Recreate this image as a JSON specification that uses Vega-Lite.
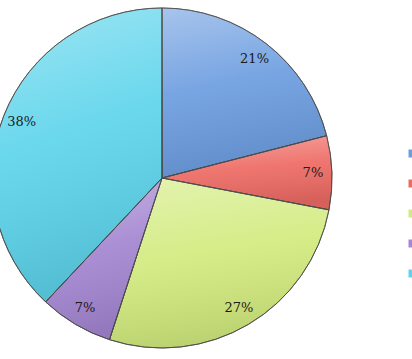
{
  "$schema": "https://vega.github.io/schema/vega-lite/v6.json",
  "autosize": "none",
  "padding": {"left": 0, "top": 0, "right": 88, "bottom": 3},
  "width": 324,
  "height": 356,
  "background": "white",
  "data": {
    "values": [
      {"category": "Category 1", "share": 0.21, "order": 1},
      {"category": "Category 2", "share": 0.07, "order": 2},
      {"category": "Category 3", "share": 0.27, "order": 3},
      {"category": "Category 4", "share": 0.07, "order": 4},
      {"category": "Category 5", "share": 0.38, "order": 5}
    ]
  },
  "encoding": {
    "theta": {"field": "share", "type": "quantitative", "stack": true},
    "order": {"field": "order", "type": "quantitative"},
    "color": {
      "field": "category",
      "type": "nominal",
      "sort": ["Category 1", "Category 2", "Category 3", "Category 4", "Category 5"],
      "scale": {
        "domain": ["Category 1", "Category 2", "Category 3", "Category 4", "Category 5"],
        "range": ["#6C9DE0", "#EE6B64", "#D2EB7E", "#A486D2", "#5DD4EB"]
      },
      "legend": {
        "orient": "none",
        "legendX": 407,
        "legendY": 148,
        "title": null,
        "symbolType": "square",
        "symbolSize": 64,
        "symbolStrokeWidth": 0,
        "labelFontSize": 11,
        "rowPadding": 18,
        "padding": 0,
        "labelFont": "Liberation Serif"
      }
    }
  },
  "layer": [
    {
      "mark": {"type": "arc", "outerRadius": 170, "stroke": "#4a4a4a", "strokeWidth": 0.8}
    },
    {
      "mark": {
        "type": "arc",
        "outerRadius": 170,
        "strokeWidth": 0,
        "fill": {
          "gradient": "linear",
          "x1": 0, "y1": 0, "x2": 0.2, "y2": 1,
          "stops": [
            {"offset": 0, "color": "rgba(255,255,255,0.4)"},
            {"offset": 0.5, "color": "rgba(255,255,255,0.08)"},
            {"offset": 1, "color": "rgba(0,0,0,0.1)"}
          ]
        }
      },
      "encoding": {"color": {"value": null}}
    },
    {
      "mark": {"type": "arc", "outerRadius": 170, "fill": null, "stroke": "#4a4a4a", "strokeWidth": 0.8},
      "encoding": {"color": {"value": null}}
    },
    {
      "mark": {"type": "text", "radius": 151, "font": "DejaVu Serif", "fontSize": 13, "fill": "#1a1a1a"},
      "encoding": {
        "text": {"field": "share", "type": "quantitative", "format": ".0%"},
        "color": {"value": "#1a1a1a"}
      }
    }
  ]
}
